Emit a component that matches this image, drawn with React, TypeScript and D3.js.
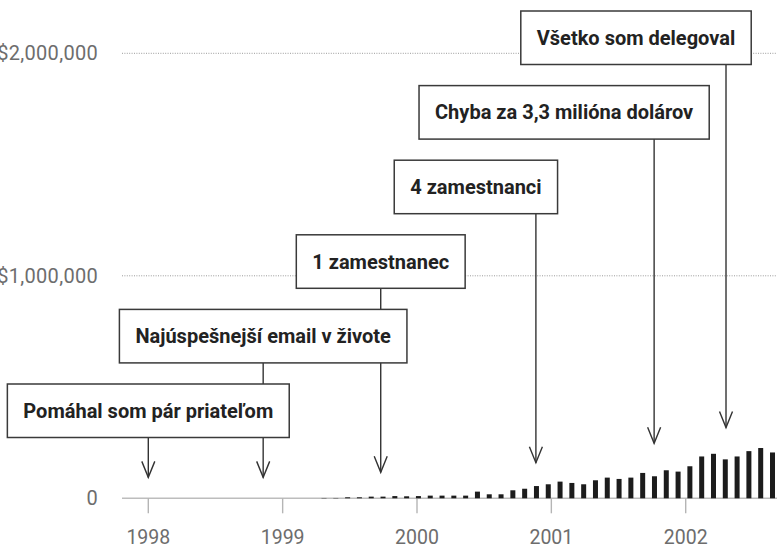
import { useEffect, useRef } from 'react';
import * as d3 from 'd3';

const width = 777;
const height = 547;

const yearTicks = [1998, 1999, 2000, 2001, 2002];
const valueTicks = [0, 1000000, 2000000];

// monthly revenue, from spring 1999 on
const revenue = [
  1500, 1500, 4500, 4500, 7500, 7500, 10000, 9000, 10000, 12000,
  12000, 12000, 12000, 30000, 18000, 18000, 36000, 43000, 55000, 63000,
  75000, 69000, 63000, 81000, 93000, 87000, 93000, 114000, 99000, 126000,
  120000, 144000, 188000, 200000, 175000, 188000, 212000, 226000, 206000,
];
const revenueStart = 1999.264;
const revenueEnd = 2002.69;

const eventLabels = [
  'Pomáhal som pár priateľom',
  'Najúspešnejší email v živote',
  '1 zamestnanec',
  '4 zamestnanci',
  'Chyba za 3,3 milióna dolárov',
  'Všetko som delegoval',
];
const eventDates = [1998.0, 1998.855, 1999.73, 2000.885, 2001.765, 2002.3];
const eventValues = [94000, 94000, 117000, 160000, 247000, 318000];
const boxShift = [0, 0, 0, -60, -90, -90];

export default function App() {
  const svgRef = useRef<SVGSVGElement>(null);

  useEffect(() => {
    const svg = d3.select(svgRef.current);
    svg.selectAll('*').remove();

    const x = d3.scaleLinear().domain([1998, 2002]).range([148.3, 685.7]);
    const y = d3.scaleLinear().domain([0, 2000000]).range([498.3, 53.3]);
    const band = d3.scaleBand<number>()
      .domain(revenue.map((_, i) => i))
      .range([x(revenueStart), x(revenueEnd)])
      .paddingInner(0.576)
      .paddingOuter(0.288);

    const gridLeft = 122;
    const fmt = (v: number) => (v === 0 ? '0' : d3.format('$,')(v));

    // gridlines
    svg.append('g')
      .selectAll('line')
      .data(valueTicks.filter(v => v > 0))
      .enter().append('line')
      .attr('x1', gridLeft)
      .attr('x2', width)
      .attr('y1', d => y(d))
      .attr('y2', d => y(d))
      .style('stroke', '#9a9a9a')
      .style('stroke-width', 1)
      .style('stroke-dasharray', '1 1.4');

    svg.append('line')
      .attr('x1', gridLeft)
      .attr('x2', width)
      .attr('y1', y(0))
      .attr('y2', y(0))
      .style('stroke', '#bdbdbd')
      .style('stroke-width', 1.6);

    // y labels
    svg.append('g')
      .selectAll('text')
      .data(valueTicks)
      .enter().append('text')
      .attr('x', 98)
      .attr('y', d => y(d) + 7)
      .attr('text-anchor', 'end')
      .style('font-family', 'Roboto, sans-serif')
      .style('font-size', '20px')
      .style('letter-spacing', '0.3px')
      .style('fill', '#6d6d6d')
      .text(fmt);

    // x ticks + labels
    const xt = svg.append('g')
      .selectAll('g')
      .data(yearTicks)
      .enter().append('g');
    xt.append('line')
      .attr('x1', d => x(d))
      .attr('x2', d => x(d))
      .attr('y1', y(0))
      .attr('y2', y(0) + 15)
      .style('stroke', '#b5b5b5')
      .style('stroke-width', 1.4);
    xt.append('text')
      .attr('x', d => x(d))
      .attr('y', 544)
      .attr('text-anchor', 'middle')
      .style('font-family', 'Roboto, sans-serif')
      .style('font-size', '19.5px')
      .style('fill', '#6d6d6d')
      .text(d => String(d));

    // bars
    svg.append('g')
      .selectAll('rect')
      .data(revenue)
      .enter().append('rect')
      .attr('x', (_, i) => band(i)!)
      .attr('width', band.bandwidth())
      .attr('y', d => y(d))
      .attr('height', d => y(0) - y(d))
      .style('fill', '#1c1c1c');

    // annotations
    const boxTop = (i: number) => 384 - i * 74.6;
    const boxH = 53.5;
    const lines = svg.append('g');
    const boxes = svg.append('g');

    eventLabels.forEach((label, i) => {
      const ax = x(eventDates[i]);
      const tipY = y(eventValues[i]);
      const top = boxTop(i);

      lines.append('line')
        .attr('x1', ax).attr('x2', ax)
        .attr('y1', top + boxH).attr('y2', tipY)
        .style('stroke', '#333')
        .style('stroke-width', 1.4);
      lines.append('path')
        .attr('d', `M${ax - 6.5},${tipY - 16}L${ax},${tipY}L${ax + 6.5},${tipY - 16}`)
        .style('fill', 'none')
        .style('stroke', '#333')
        .style('stroke-width', 1.4);

      const g = boxes.append('g');
      const rect = g.append('rect');
      const t = g.append('text')
        .attr('text-anchor', 'middle')
        .attr('x', ax + boxShift[i])
        .attr('y', top + boxH / 2 + 7)
        .style('font-family', 'Roboto, sans-serif')
        .style('font-weight', '700')
        .style('font-size', '20px')
        .style('fill', '#222')
        .text(label);
      const w = (t.node() as SVGTextElement).getComputedTextLength() + 32;
      rect
        .attr('x', ax + boxShift[i] - w / 2)
        .attr('y', top)
        .attr('width', w)
        .attr('height', boxH)
        .style('fill', '#fff')
        .style('stroke', '#3a3a3a')
        .style('stroke-width', 1.5);
    });
  }, []);

  return (
    <div style={{ position: 'absolute', left: 0, top: 0, width, height, overflow: 'hidden', background: '#fff' }}>
      <svg ref={svgRef} width={width} height={height}></svg>
    </div>
  );
}
